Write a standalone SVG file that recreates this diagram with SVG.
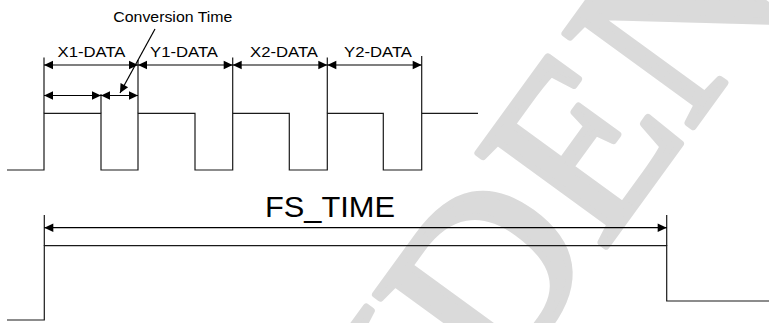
<svg xmlns="http://www.w3.org/2000/svg" width="769" height="323" viewBox="0 0 769 323">
  <defs>
    <marker id="ah" markerUnits="userSpaceOnUse" markerWidth="12" markerHeight="12" viewBox="-10 -6 12 12" refX="0" refY="0" orient="auto-start-reverse">
      <path d="M0,0 L-9,-4.3 L-9,4.3 Z" fill="#000"/>
    </marker>
    <style>
      .sig { fill: none; stroke: #1a1a1a; stroke-width: 1.2; }
      .dim { fill: none; stroke: #000; stroke-width: 1.2; marker-start: url(#ah); marker-end: url(#ah); }
      .lead { fill: none; stroke: #000; stroke-width: 1.2; marker-end: url(#ah); }
      .lbl { font-family: "Liberation Sans", Arial, sans-serif; font-size: 15px; fill: #000; }
      .big { font-family: "Liberation Sans", Arial, sans-serif; font-size: 30px; fill: #000; }
      .wm { font-family: "Liberation Serif", "Times New Roman", serif; font-size: 242px; fill: #dadada; stroke: #dadada; stroke-width: 7; stroke-linejoin: round; }
    </style>
  </defs>
  <rect width="769" height="323" fill="#fff"/>
  <g id="watermark">
    <text class="wm" transform="translate(602,252) rotate(-54)" x="-900.7" y="0">CONFIDENTIAL</text>
  </g>
  <g id="signal-top">
    <path class="sig" d="M7,170 H44 V113.3 H101 V170 H138 V113.3 H195 V170 H232.7 V113.3 H289.3 V170 H327.3 V113.3 H383.3 V170 H421.7 V113.3 H478"/>
  </g>
  <g id="extension-lines">
    <path class="sig" d="M44,113.3 V57.5 M138,113.3 V60 M232.7,113.3 V57.5 M327.3,113.3 V57.5 M421.7,113.3 V56 M101,113.3 V94"/>
  </g>
  <g id="signal-bottom">
    <path class="sig" d="M7,320 H44.3 V245.7 H666.7 V301 H769"/>
    <path class="sig" d="M44.3,245.7 V215 M666.7,245.7 V215"/>
  </g>
  <g id="connectors">
    <line class="dim" x1="44" y1="65" x2="138" y2="65"/>
    <line class="dim" x1="138" y1="65" x2="232.7" y2="65"/>
    <line class="dim" x1="232.7" y1="65" x2="327.3" y2="65"/>
    <line class="dim" x1="327.3" y1="65" x2="421.7" y2="65"/>
    <line class="dim" x1="44" y1="95.5" x2="101" y2="95.5"/>
    <line class="dim" x1="101" y1="95.5" x2="138" y2="95.5"/>
    <line class="dim" x1="44.3" y1="227.7" x2="666.7" y2="227.7"/>
    <line class="lead" x1="155" y1="29" x2="120" y2="93"/>
  </g>
  <g id="labels">
    <text class="lbl" x="91.5" y="57" text-anchor="middle" textLength="68" lengthAdjust="spacingAndGlyphs">X1-DATA</text>
    <text class="lbl" x="184" y="57" text-anchor="middle" textLength="68" lengthAdjust="spacingAndGlyphs">Y1-DATA</text>
    <text class="lbl" x="284" y="57" text-anchor="middle" textLength="68" lengthAdjust="spacingAndGlyphs">X2-DATA</text>
    <text class="lbl" x="378" y="57" text-anchor="middle" textLength="68" lengthAdjust="spacingAndGlyphs">Y2-DATA</text>
    <text class="lbl" x="113.3" y="22" textLength="119" lengthAdjust="spacingAndGlyphs">Conversion Time</text>
    <text class="big" x="265" y="217" textLength="130" lengthAdjust="spacingAndGlyphs">FS_TIME</text>
  </g>
</svg>
